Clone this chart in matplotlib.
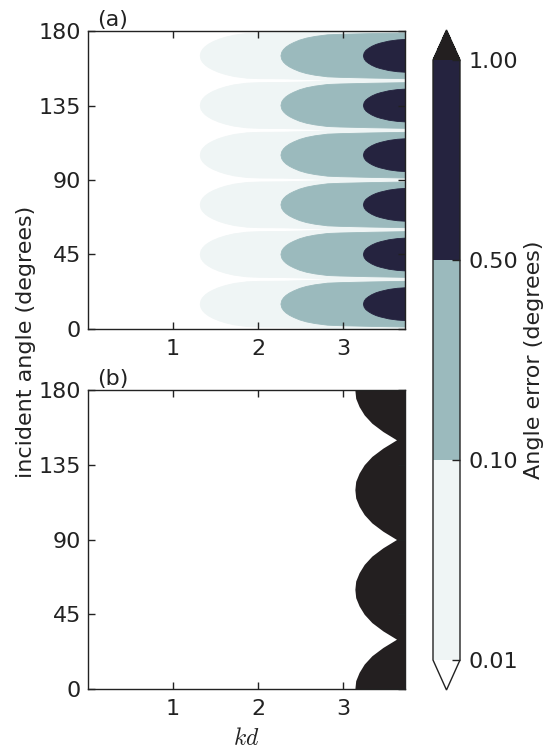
import numpy as np
import matplotlib
matplotlib.use("Agg")
import matplotlib.pyplot as plt
from matplotlib.colors import ListedColormap, BoundaryNorm
from matplotlib.cm import ScalarMappable

# ---------------- data ----------------
kd_max = 3.73
x_ticks = [1, 2, 3]
y_ticks = [0, 45, 90, 135, 180]
cbar_levels = [0.01, 0.10, 0.50, 1.00]
level_colors = ["#eff5f5", "#9bbabd", "#25233f"]
over_color = "#231f20"
under_color = "white"

# panel (a): lobes of constant error level, centred on these angles
lobe_centers = [15, 45, 75, 105, 135, 165]
# boundary of each level: kd value and half-width of the lobe (degrees)
light_kd = [1.32, 1.33, 1.35, 1.38, 1.42, 1.47, 1.54, 1.62, 1.72, 1.87, 2.02, 2.30, 2.60, 2.80, 2.95, 3.73]
light_hw = [0.0, 2.3, 4.0, 5.6, 7.1, 8.5, 10.0, 11.3, 12.5, 13.5, 13.8, 13.9, 14.3, 14.7, 15.0, 15.0]
teal_kd = [2.27, 2.28, 2.30, 2.33, 2.37, 2.42, 2.49, 2.57, 2.67, 2.82, 2.97, 3.30, 3.73]
teal_hw = [0.0, 2.2, 3.8, 5.3, 6.7, 8.0, 9.5, 10.7, 11.7, 12.7, 13.0, 13.4, 13.8]
navy_kd = [3.24, 3.25, 3.27, 3.30, 3.34, 3.39, 3.44, 3.54, 3.64, 3.73]
navy_hw = [0.0, 1.9, 3.3, 4.5, 5.75, 6.9, 7.7, 8.9, 9.6, 9.9]

# panel (b): left boundary of the black region
region_angle = [0, 5, 10, 15, 20, 25, 30, 35, 40, 45, 50, 55, 60,
                65, 70, 75, 80, 85, 90, 95, 100, 105, 110, 115, 120,
                125, 130, 135, 140, 145, 150, 155, 160, 165, 170, 175, 180]
region_kd = [3.14, 3.15, 3.19, 3.25, 3.34, 3.47, 3.63, 3.47, 3.34, 3.25, 3.19, 3.15, 3.14,
             3.15, 3.19, 3.25, 3.34, 3.47, 3.63, 3.47, 3.34, 3.25, 3.19, 3.15, 3.14,
             3.15, 3.19, 3.25, 3.34, 3.47, 3.63, 3.47, 3.34, 3.25, 3.19, 3.15, 3.14]

# ---------------- style ----------------
txt = "#222222"
plt.rcParams.update({
    "font.family": ["DejaVu Sans"],
    "font.size": 16,
    "mathtext.fontset": "cm",
    "text.color": txt,
    "axes.labelcolor": txt,
    "xtick.color": txt,
    "ytick.color": txt,
})

fig = plt.figure(figsize=(5.47, 7.49), dpi=100)
W, H = 547.0, 749.0


def add_ax(left, top, right, bottom):
    return fig.add_axes([left / W, 1 - bottom / H, (right - left) / W, (bottom - top) / H])


ax_a = add_ax(88, 31, 405, 329)
ax_b = add_ax(88, 390, 405, 689)


def lobe(ax, center, kd, hw, color):
    kd = np.asarray(kd)
    hw = np.asarray(hw)
    xs = np.concatenate([kd[::-1], kd])
    ys = np.concatenate([center - hw[::-1], center + hw])
    ax.fill(xs, ys, color=color, lw=0.6, ec=color, zorder=1)


for c in lobe_centers:
    lobe(ax_a, c, light_kd, light_hw, level_colors[0])
for c in lobe_centers:
    lobe(ax_a, c, teal_kd, teal_hw, level_colors[1])
for c in lobe_centers:
    lobe(ax_a, c, navy_kd, navy_hw, level_colors[2])

ax_b.fill_betweenx(region_angle, region_kd, kd_max, color=over_color, lw=0, zorder=1)

for ax, lab in [(ax_a, "(a)"), (ax_b, "(b)")]:
    ax.set_xlim(0, kd_max)
    ax.set_ylim(0, 180)
    ax.set_xticks(x_ticks)
    ax.set_yticks(y_ticks)
    ax.tick_params(direction="in", top=True, right=True, length=5, width=1)
    ax.tick_params(axis="x", pad=7)
    ax.tick_params(axis="y", pad=5)
    for s in ax.spines.values():
        s.set_linewidth(1.0)
        s.set_color("#222222")
        s.set_zorder(5)
    ax.text(0.03, 1.005, lab, transform=ax.transAxes, ha="left", va="bottom", fontsize=16)

ax_b.set_xlabel(r"$kd$", fontsize=17, labelpad=5)

fig.text(26 / W, 1 - 342 / H, "incident angle (degrees)", rotation=90,
         ha="center", va="center", fontsize=16)

# ---------------- colorbar ----------------
cmap = ListedColormap(level_colors)
cmap.set_under(under_color)
cmap.set_over(over_color)
norm = BoundaryNorm(cbar_levels, cmap.N)
sm = ScalarMappable(norm=norm, cmap=cmap)
cax = add_ax(433, 30, 460, 690)
cb = fig.colorbar(sm, cax=cax, extend="both", ticks=cbar_levels, format="%.2f",
                  spacing="uniform")
cb.outline.set_linewidth(1.0)
cb.outline.set_edgecolor("#222222")
cb.ax.tick_params(direction="in", length=6, width=1, pad=6, labelsize=16)
cb.set_label("Angle error (degrees)", fontsize=16, labelpad=4)

fig.savefig("out.png", dpi=100)
